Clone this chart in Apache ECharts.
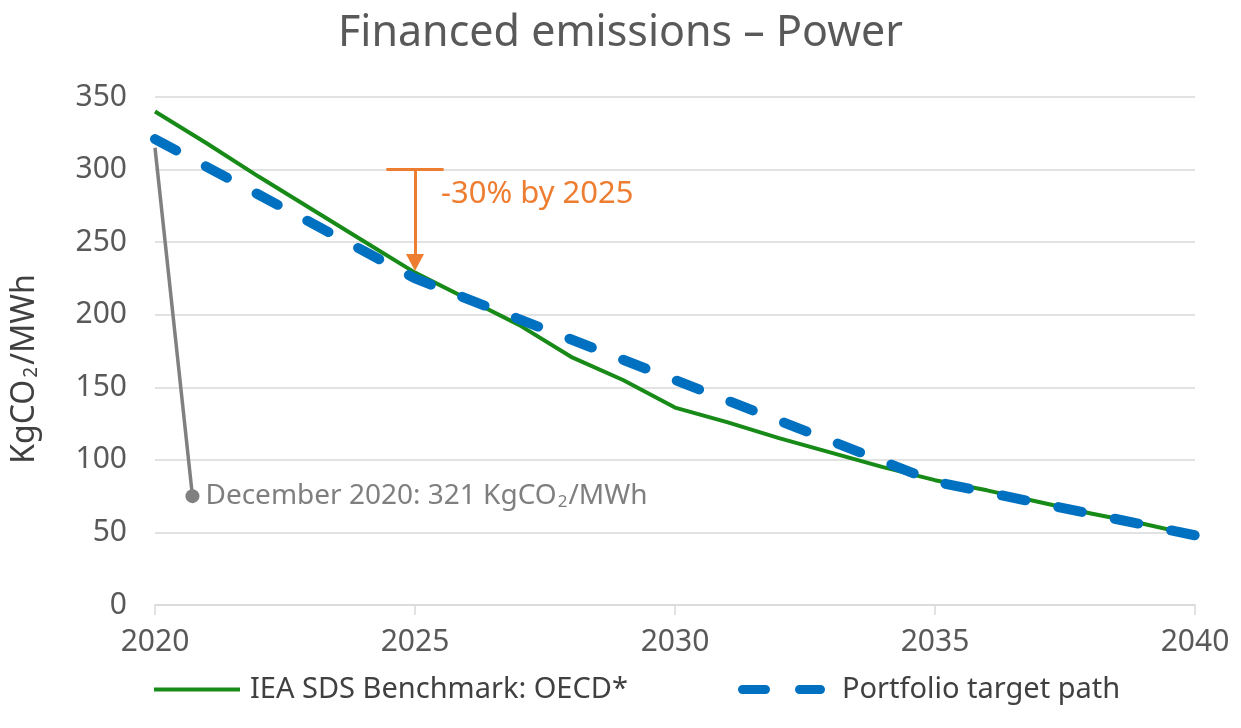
<!DOCTYPE html>
<html>
<head>
<meta charset="utf-8">
<title>Financed emissions – Power</title>
<script src="https://cdn.jsdelivr.net/npm/echarts@6/dist/echarts.min.js"></script>
<style>
  html, body { margin: 0; padding: 0; background: #fff; }
  #main { width: 1241px; height: 728px; }
</style>
</head>
<body>
<div id="main"></div>
<script>
// data
var years = [2020, 2021, 2022, 2023, 2024, 2025, 2026, 2027, 2028, 2029, 2030,
             2031, 2032, 2033, 2034, 2035, 2036, 2037, 2038, 2039, 2040];
var benchmark = [340, 318, 295, 273, 251, 229, 211, 193, 171, 155, 136,
                 126, 115, 105, 95, 86, 79, 71, 63, 56, 48];
var targetYears = [2020, 2025, 2030, 2035, 2040];
var target = [321, 225, 155, 85, 48];
var yTicks = [0, 350, 50];      // min, max, interval
var xTicks = [2020, 2040, 5];

// annotations (data coordinates)
var pointerLine = [[2020, 315], [2020.72, 75]];
var reductionBar = [[2024.45, 300], [2025.55, 300]];
var reductionArrow = [[2025, 300], [2025, 236]];
var reductionLabelAt = [2025.5, 283];

var font = 'Noto Sans';
var chart = echarts.init(document.getElementById('main'));

function pairs(xs, ys) {
    return xs.map(function (x, i) { return [x, ys[i]]; });
}

// legend icons
var solidIcon = 'path://M0,0H86V4H0Z';
var dashIcon = 'path://M4.5,0H27.5A4.5,4.5,0,0,1,27.5,9H4.5A4.5,4.5,0,0,1,4.5,0Z' +
               'M61.5,0H82.5A4.5,4.5,0,0,1,82.5,9H61.5A4.5,4.5,0,0,1,61.5,0Z';

var option = {
    animation: false,
    title: {
        text: 'Financed emissions – Power',
        left: 'center',
        top: 7,
        textStyle: { fontFamily: font, fontSize: 43, fontWeight: 'normal', color: '#595959' }
    },
    legend: [{
        data: [{ name: 'IEA SDS Benchmark: OECD*', icon: solidIcon }],
        left: 149, top: 670,
        itemWidth: 86, itemHeight: 4,
        textStyle: { fontFamily: font, fontSize: 29, color: '#404040', padding: [0, 0, 0, 5] }
    }, {
        data: [{ name: 'Portfolio target path', icon: dashIcon }],
        left: 733, top: 670,
        itemWidth: 87, itemHeight: 9,
        textStyle: { fontFamily: font, fontSize: 29, color: '#404040', padding: [0, 0, 0, 12] }
    }],
    grid: { left: 155, right: 46, top: 97, bottom: 123 },
    xAxis: {
        type: 'value',
        min: xTicks[0], max: xTicks[1], interval: xTicks[2],
        axisLine: { lineStyle: { color: '#D9D9D9', width: 1.5 } },
        axisTick: { show: true, length: 10, lineStyle: { color: '#D9D9D9', width: 1.5 } },
        splitLine: { show: false },
        axisLabel: {
            fontFamily: font, fontSize: 30, color: '#595959', margin: 22,
            formatter: function (v) { return String(v); }
        }
    },
    yAxis: {
        type: 'value',
        min: yTicks[0], max: yTicks[1], interval: yTicks[2],
        name: 'KgCO{s|2}/MWh',
        nameLocation: 'middle',
        nameRotate: 90,
        nameGap: 114,
        nameTextStyle: {
            fontFamily: font, fontSize: 32, color: '#404040', padding: [0, 36, 0, 0],
            rich: { s: { fontFamily: font, fontSize: 19, color: '#404040', padding: [0, 2, -14, 2] } }
        },
        axisLine: { show: false },
        axisTick: { show: false },
        splitLine: { lineStyle: { color: '#D9D9D9', width: 1.5 } },
        axisLabel: { fontFamily: font, fontSize: 30, color: '#595959', margin: 28 }
    },
    series: [{
        name: 'IEA SDS Benchmark: OECD*',
        type: 'line',
        data: pairs(years, benchmark),
        symbol: 'none',
        color: '#178A17',
        lineStyle: { color: '#178A17', width: 4 },
        z: 3
    }, {
        name: 'Portfolio target path',
        type: 'line',
        data: pairs(targetYears, target),
        symbol: 'none',
        color: '#0070C0',
        lineStyle: { color: '#0070C0', width: 10, type: [24, 33.6], cap: 'round' },
        z: 4
    }, {
        name: 'pointer',
        type: 'line',
        data: [
            { value: pointerLine[0], symbol: 'none' },
            {
                value: pointerLine[1], symbol: 'circle', symbolSize: 14,
                label: {
                    show: true, position: 'right', distance: 6,
                    formatter: 'December 2020: 321 KgCO{s|2}/MWh',
                    fontFamily: font, fontSize: 28, color: '#7F7F7F',
                    rich: { s: { fontFamily: font, fontSize: 17, color: '#7F7F7F', padding: [0, 1, -13, 1] } }
                }
            }
        ],
        color: '#808080',
        itemStyle: { color: '#808080' },
        lineStyle: { color: '#808080', width: 3.5 },
        silent: true,
        z: 5
    }, {
        name: 'reduction',
        type: 'line',
        data: [],
        silent: true,
        markLine: {
            silent: true,
            symbol: ['none', 'none'],
            label: { show: false },
            lineStyle: { color: '#ED7D31', width: 3, type: 'solid' },
            data: [
                [{ coord: reductionBar[0] }, { coord: reductionBar[1] }],
                [{ coord: reductionArrow[0] }, { coord: reductionArrow[1], symbol: 'triangle', symbolSize: [18, 17], symbolRotate: 180 }]
            ]
        },
        markPoint: {
            silent: true,
            symbol: 'circle',
            symbolSize: 0,
            data: [{
                coord: reductionLabelAt,
                label: {
                    show: true, position: 'right', distance: 0,
                    formatter: '-30% by 2025',
                    fontFamily: font, fontSize: 31, color: '#ED7D31'
                }
            }]
        }
    }]
};

chart.setOption(option);
</script>
</body>
</html>
